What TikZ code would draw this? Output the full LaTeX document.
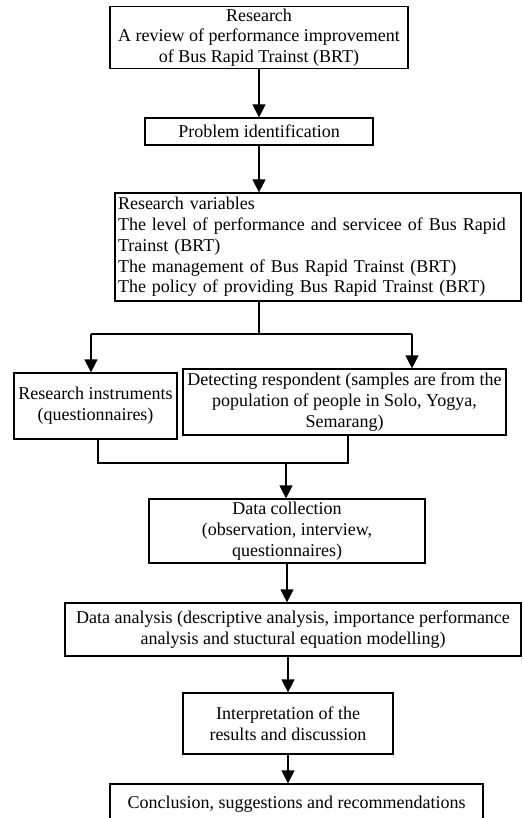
\documentclass[tikz,border=0pt]{standalone}
\usepackage{fontspec}
\setmainfont{Liberation Serif}
\usetikzlibrary{arrows.meta,calc}
\begin{document}
\begin{tikzpicture}[x=1pt,y=-1pt,line width=1.2pt,
  box/.style={draw, inner xsep=3pt, inner ysep=2pt, align=center,
    font=\fontsize{18}{20.7}\selectfont},
  link/.style={-{Triangle[width=13pt,length=13pt]}}]
  \useasboundingbox (0,0) rectangle (523,818);

  \node[box, minimum width=298pt, minimum height=61pt] (research) at (259,37.5)
    {Research\\A review of performance improvement\\of Bus Rapid Trainst (BRT)};
  \node[box, minimum width=228pt, minimum height=27pt] (problem) at (259,131.5)
    {Problem identification};
  \node[box, text width=400pt, minimum height=108pt, align=left] (variables) at (318,247)
    {Research variables\\The level of performance and servicee of Bus Rapid\\Trainst (BRT)\\The management of Bus Rapid Trainst (BRT)\\The policy of providing Bus Rapid Trainst (BRT)};
  \node[box, minimum width=163pt, minimum height=66pt, inner xsep=1pt] (instruments) at (95.5,406)
    {Research instruments\\(questionnaires)};
  \node[box, minimum width=323pt, minimum height=66pt, inner xsep=1pt] (respondent) at (344.5,402)
    {Detecting respondent (samples are from the\\population of people in Solo, Yogya,\\Semarang)};
  \node[box, minimum width=276pt, minimum height=64pt] (collection) at (287,531)
    {Data collection\\(observation, interview,\\questionnaires)};
  \node[box, minimum width=456pt, minimum height=53pt] (analysis) at (293,629.5)
    {Data analysis (descriptive analysis, importance performance\\analysis and stuctural equation modelling)};
  \node[box, minimum width=210pt, minimum height=61pt] (interpretation) at (288,723.5)
    {Interpretation of the\\results and discussion};
  \node[box, minimum width=373pt, minimum height=40pt] (conclusion) at (296.5,804)
    {Conclusion, suggestions and recommendations};

  \coordinate (split) at (259,334);
  \coordinate (toleft) at (91,334);
  \coordinate (toright) at (412,334);
  \coordinate (joinleft) at (98,463);
  \coordinate (joinright) at (348,463);
  \coordinate (join) at (286,463);

  \draw[link] (research.south) -- (problem.north);
  \draw[link] (problem.south) -- (problem.south |- variables.north);
  \draw (variables.south -| split) -- (split);
  \draw (toleft) -- (toright);
  \draw[link] (toleft) -- (toleft |- instruments.north);
  \draw[link] (toright) -- (toright |- respondent.north);
  \draw (instruments.south -| joinleft) -- (joinleft) -- (joinright) -- (respondent.south -| joinright);
  \draw[link] (join) -- (join |- collection.north);
  \draw[link] (collection.south) -- (collection.south |- analysis.north);
  \draw[link] (interpretation.north |- analysis.south) -- (interpretation.north);
  \draw[link] (interpretation.south) -- (interpretation.south |- conclusion.north);
\end{tikzpicture}
\end{document}
